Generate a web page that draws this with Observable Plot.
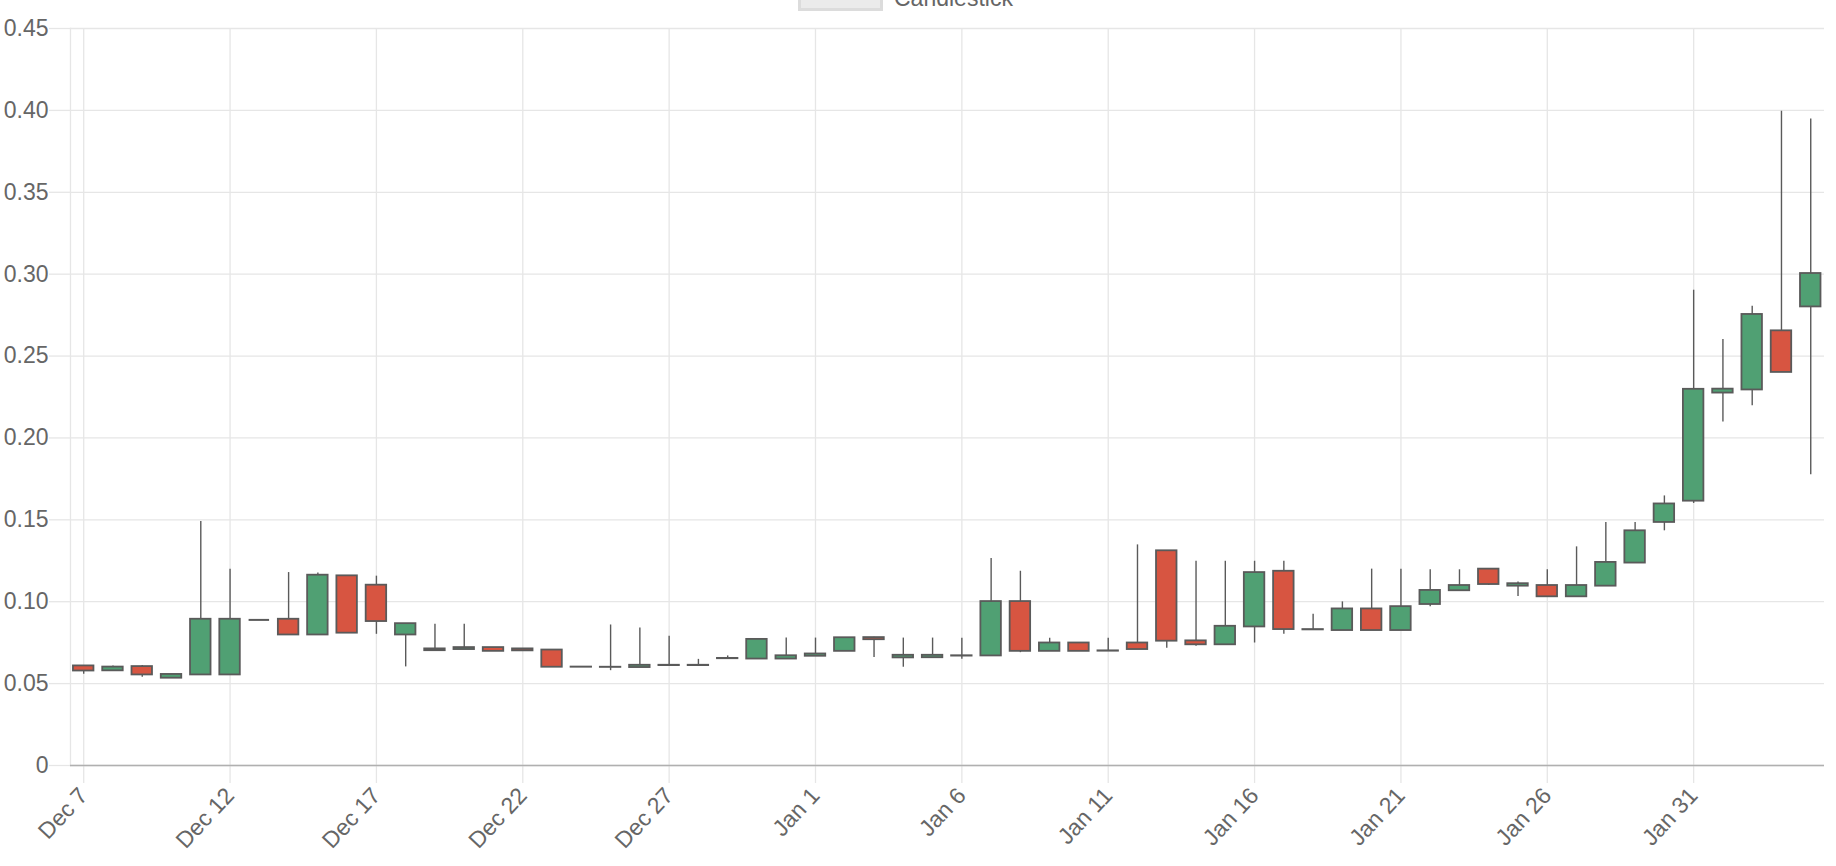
<!DOCTYPE html>
<html>
<head>
<meta charset="utf-8">
<script src="https://cdn.jsdelivr.net/npm/d3@7"></script>
<script src="https://cdn.jsdelivr.net/npm/@observablehq/plot@0.6"></script>
<style>
  html, body { margin: 0; padding: 0; background: #fff; overflow: hidden; }
  #wrap { position: relative; width: 1836px; height: 866px; font-family: "Helvetica Neue", Helvetica, Arial, "Liberation Sans", sans-serif; }
  #legend { position: absolute; left: 798px; top: -15px; height: 26px; display: flex; align-items: center; color: #666; font-size: 23px; }
  #legend .box { width: 79px; height: 20px; background: #ebebeb; border: 3px solid #dcdcdc; margin-right: 11px; }
  #legend .lab { line-height: 26px; }
</style>
</head>
<body>
<div id="wrap">
  <div id="legend"><span class="box"></span><span class="lab">Candlestick</span></div>
  <div id="chart"></div>
</div>
<script>
const dates = [
  "2017-12-07","2017-12-08","2017-12-09","2017-12-10","2017-12-11","2017-12-12","2017-12-13","2017-12-14","2017-12-15","2017-12-16",
  "2017-12-17","2017-12-18","2017-12-19","2017-12-20","2017-12-21","2017-12-22","2017-12-23","2017-12-24","2017-12-25","2017-12-26",
  "2017-12-27","2017-12-28","2017-12-29","2017-12-30","2017-12-31","2018-01-01","2018-01-02","2018-01-03","2018-01-04","2018-01-05",
  "2018-01-06","2018-01-07","2018-01-08","2018-01-09","2018-01-10","2018-01-11","2018-01-12","2018-01-13","2018-01-14","2018-01-15",
  "2018-01-16","2018-01-17","2018-01-18","2018-01-19","2018-01-20","2018-01-21","2018-01-22","2018-01-23","2018-01-24","2018-01-25",
  "2018-01-26","2018-01-27","2018-01-28","2018-01-29","2018-01-30","2018-01-31","2018-02-01","2018-02-02","2018-02-03","2018-02-04"
];
const opens = [
  0.0608,0.0578,0.0604,0.0533,0.0553,0.0553,0.0889,0.0893,0.0797,0.1158,
  0.1101,0.0797,0.0701,0.0708,0.0720,0.0712,0.0705,0.0601,0.0599,0.0598,
  0.0610,0.0610,0.0652,0.0650,0.0650,0.0667,0.0697,0.0781,0.0657,0.0658,
  0.0668,0.0669,0.1001,0.0697,0.0748,0.0698,0.0748,0.1311,0.0761,0.0737,
  0.0846,0.1186,0.0828,0.0824,0.0956,0.0824,0.0983,0.1067,0.1199,0.1095,
  0.1099,0.1030,0.1095,0.1236,0.1484,0.1614,0.2274,0.2293,0.2654,0.2800
];
const highs = [
  0.0610,0.0608,0.0610,0.0557,0.1490,0.1199,0.0889,0.1178,0.1176,0.1158,
  0.1156,0.0866,0.0862,0.0862,0.0720,0.0712,0.0705,0.0601,0.0858,0.0839,
  0.0789,0.0648,0.0669,0.0770,0.0778,0.0778,0.0780,0.0783,0.0778,0.0778,
  0.0777,0.1264,0.1186,0.0777,0.0748,0.0777,0.1347,0.1311,0.1247,0.1247,
  0.1247,0.1247,0.0924,0.0999,0.1199,0.1199,0.1195,0.1195,0.1199,0.1120,
  0.1195,0.1335,0.1484,0.1484,0.1646,0.2902,0.2601,0.2804,0.3994,0.3948
];
const lows = [
  0.0557,0.0577,0.0539,0.0532,0.0553,0.0553,0.0889,0.0797,0.0797,0.0808,
  0.0801,0.0602,0.0700,0.0708,0.0697,0.0699,0.0600,0.0599,0.0579,0.0598,
  0.0610,0.0610,0.0652,0.0650,0.0650,0.0667,0.0697,0.0660,0.0600,0.0658,
  0.0649,0.0669,0.0689,0.0697,0.0697,0.0698,0.0708,0.0716,0.0728,0.0736,
  0.0748,0.0801,0.0826,0.0824,0.0824,0.0824,0.0969,0.1067,0.1099,0.1032,
  0.1030,0.1030,0.1095,0.1236,0.1433,0.1600,0.2098,0.2197,0.2400,0.1776
];
const closes = [
  0.0577,0.0601,0.0553,0.0556,0.0893,0.0893,0.0889,0.0797,0.1162,0.0808,
  0.0879,0.0866,0.0712,0.0720,0.0697,0.0700,0.0600,0.0600,0.0600,0.0612,
  0.0612,0.0612,0.0654,0.0770,0.0670,0.0681,0.0780,0.0768,0.0673,0.0673,
  0.0670,0.1001,0.0697,0.0748,0.0697,0.0700,0.0708,0.0759,0.0737,0.0850,
  0.1178,0.0830,0.0830,0.0956,0.0824,0.0970,0.1069,0.1099,0.1105,0.1110,
  0.1030,0.1099,0.1240,0.1433,0.1597,0.2297,0.2298,0.2754,0.2400,0.3004
];
const xTickLabels = ["2017-12-07","2017-12-12","2017-12-17","2017-12-22","2017-12-27","2018-01-01",
  "2018-01-06","2018-01-11","2018-01-16","2018-01-21","2018-01-26","2018-01-31"];
const yTicks = [0, 0.05, 0.10, 0.15, 0.20, 0.25, 0.30, 0.35, 0.40, 0.45];

const UP = "rgb(80,160,115)", DOWN = "rgb(215,85,65)", SAME = "rgb(90,90,90)", EDGE = "rgb(90,90,90)";
const GRID = "#e6e6e6";
const parse = d3.utcParse("%Y-%m-%d");
const DAY = 864e5;
const data = dates.map((d, i) => ({
  date: parse(d), open: opens[i], high: highs[i], low: lows[i], close: closes[i]
}));
const bodies = data.filter(d => d.open !== d.close);
const flats = data.filter(d => d.open === d.close);
const tickDates = xTickLabels.map(parse);
const first = data[0].date, last = data[data.length - 1].date;
const fmtX = d3.utcFormat("%b %-d");
const fmtY = d => d === 0 ? "0" : d.toFixed(2);
const half = 0.35 * DAY;

const chart = Plot.plot({
  width: 1836,
  height: 866,
  marginTop: 28,
  marginBottom: 101,
  marginLeft: 70,
  marginRight: 12,
  style: {
    fontFamily: '"Helvetica Neue", Helvetica, Arial, "Liberation Sans", sans-serif',
    fontSize: "23px",
    color: "#666",
    background: "#fff",
    overflow: "visible"
  },
  x: {type: "utc", domain: [new Date(+first - 0.451 * DAY), new Date(+last + 0.47 * DAY)]},
  y: {domain: [0, 0.45]},
  marks: [
    Plot.gridY(yTicks, {stroke: GRID, strokeOpacity: 1, strokeWidth: 1.3}),
    Plot.gridX(tickDates, {stroke: GRID, strokeOpacity: 1, strokeWidth: 1.3}),
    Plot.frame({anchor: "left", stroke: GRID, strokeWidth: 1.3}),
    Plot.axisY({ticks: yTicks, tickFormat: fmtY, tickSize: 21, tickPadding: 1,
      stroke: GRID, strokeWidth: 1.3, color: "#666", fill: "#666"}),
    Plot.axisX({ticks: tickDates, tickFormat: fmtX, tickSize: 18, tickPadding: 8, tickRotate: -47,
      stroke: GRID, strokeWidth: 1.3, color: "#666", fill: "#666"}),
    Plot.ruleY([0], {stroke: "#b0b0b0", strokeWidth: 1.6}),
    Plot.ruleX(data, {x: "date", y1: "low", y2: "high", stroke: EDGE, strokeWidth: 1.4}),
    Plot.rectY(bodies, {
      x1: d => new Date(+d.date - half),
      x2: d => new Date(+d.date + half),
      y1: "open", y2: "close",
      fill: d => d.close > d.open ? UP : DOWN,
      stroke: EDGE, strokeWidth: 1.8
    }),
    Plot.ruleY(flats, {
      y: "open",
      x1: d => new Date(+d.date - half),
      x2: d => new Date(+d.date + half),
      stroke: SAME, strokeWidth: 2
    })
  ]
});
document.getElementById("chart").appendChild(chart);
</script>
</body>
</html>
